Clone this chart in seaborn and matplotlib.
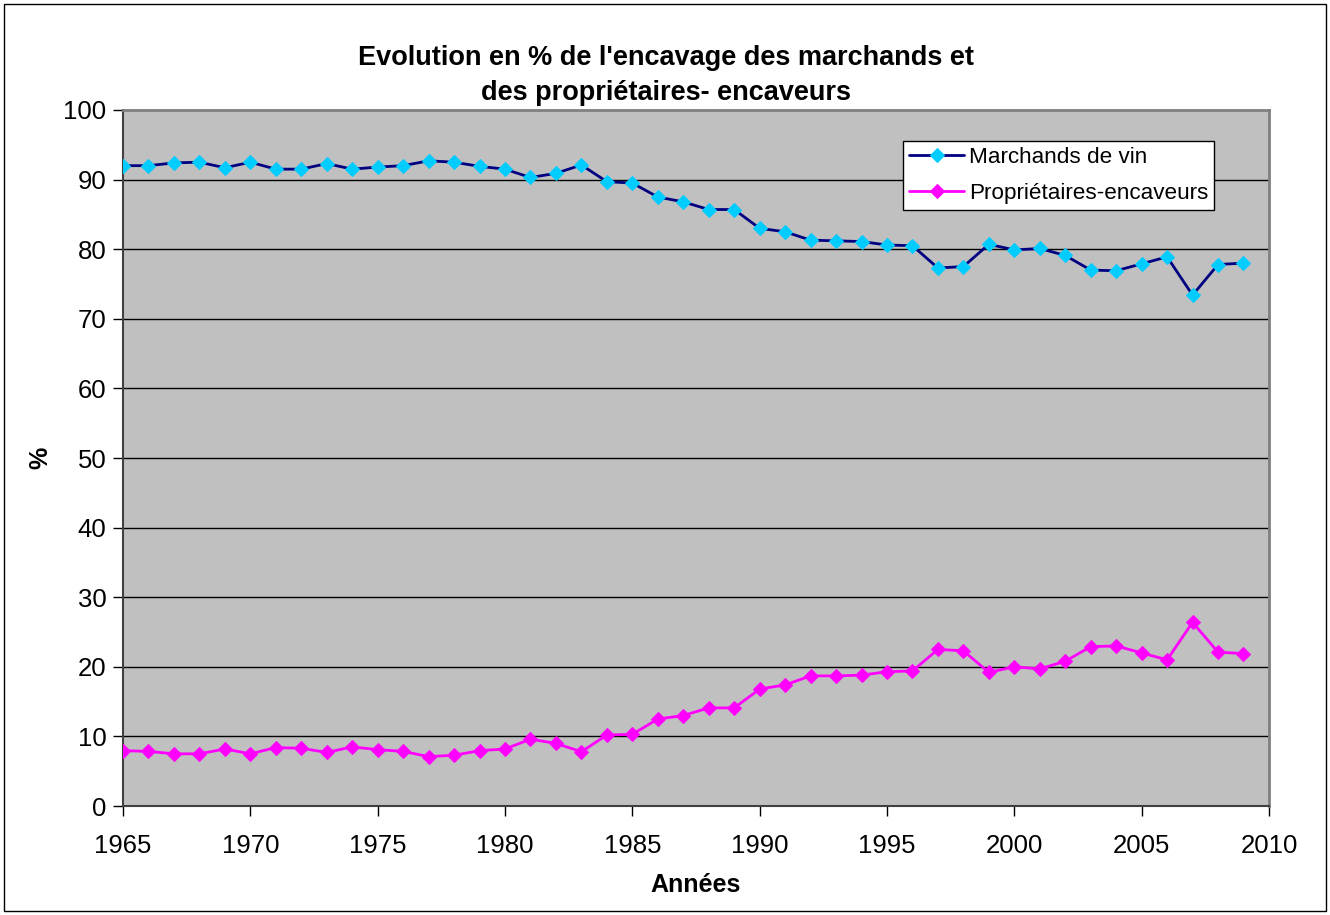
import seaborn as sns
import matplotlib.pyplot as plt
from matplotlib.patches import Rectangle

years = list(range(1965, 2010))

marchands = [92.0, 92.0, 92.4, 92.5, 91.7, 92.5, 91.5, 91.5, 92.3, 91.5,
             91.8, 92.0, 92.7, 92.5, 91.9, 91.5, 90.3, 90.9, 92.1, 89.7,
             89.5, 87.5, 86.8, 85.7, 85.7, 83.0, 82.5, 81.3, 81.2, 81.1,
             80.6, 80.5, 77.3, 77.5, 80.7, 79.9, 80.1, 79.1, 77.0, 76.9,
             77.9, 78.9, 73.4, 77.8, 78.0]

proprietaires = [7.95, 7.85, 7.5, 7.5, 8.2, 7.5, 8.4, 8.3, 7.7, 8.5,
                 8.1, 7.85, 7.1, 7.3, 7.95, 8.2, 9.6, 9.0, 7.8, 10.2,
                 10.3, 12.5, 13.0, 14.1, 14.1, 16.8, 17.4, 18.7, 18.7, 18.8,
                 19.3, 19.4, 22.5, 22.3, 19.2, 20.0, 19.7, 20.8, 22.9, 23.0,
                 22.0, 21.0, 26.4, 22.1, 21.9]

sns.set_theme(style='white')
plt.rcParams['font.family'] = ['Liberation Sans', 'DejaVu Sans']
plt.rcParams['text.color'] = 'black'
plt.rcParams['axes.labelcolor'] = 'black'
plt.rcParams['xtick.color'] = 'black'
plt.rcParams['ytick.color'] = 'black'

fig = plt.figure(figsize=(13.3, 9.15), dpi=100)
ax = fig.add_axes([0.0925, 0.1191, 0.8616, 0.7607])
ax.set_facecolor('#C0C0C0')

# Excel-like horizontal gridlines
for v in range(10, 100, 10):
    ax.axhline(v, color='black', lw=1, zorder=1)

sns.lineplot(x=years, y=marchands, ax=ax, color='#000080', linewidth=2,
             marker='D', markersize=7.5, markerfacecolor='#00CCFF',
             markeredgecolor='#00CCFF', label='Marchands de vin', zorder=3)
sns.lineplot(x=years, y=proprietaires, ax=ax, color='#FF00FF', linewidth=2,
             marker='D', markersize=7.5, markerfacecolor='#FF00FF',
             markeredgecolor='#FF00FF', label='Propriétaires-encaveurs', zorder=3)

ax.set_xlim(1965, 2010)
ax.set_ylim(0, 100)
ax.set_xticks(range(1965, 2011, 5))
ax.set_yticks(range(0, 101, 10))
ax.tick_params(axis='x', length=7, width=1, pad=13, labelsize=18.5,
               direction='out', bottom=True)
ax.tick_params(axis='y', length=7, width=1, pad=5, labelsize=18.5,
               direction='out', left=True)

for side in ['top', 'right']:
    ax.spines[side].set_color('#808080')
    ax.spines[side].set_linewidth(2)
ax.spines['left'].set_color('#404040')
ax.spines['bottom'].set_color('#404040')
ax.spines['left'].set_linewidth(1.5)
ax.spines['bottom'].set_linewidth(1.5)

ax.set_xlabel('Années', fontsize=18, fontweight='bold', labelpad=11)
ax.set_ylabel('%', fontsize=18, fontweight='bold', labelpad=8)

fig.text(0.501, 0.917, "Evolution en % de l'encavage des marchands et\ndes propriétaires- encaveurs",
         ha='center', va='center', fontsize=19.5, fontweight='bold', linespacing=1.45)

leg = ax.legend(loc='upper left', bbox_to_anchor=(0.681, 0.955), fontsize=16.2,
                frameon=True, fancybox=False, framealpha=1, edgecolor='black',
                borderaxespad=0, borderpad=0.25, handlelength=2.45,
                handletextpad=0.2, labelspacing=0.67)
leg.get_frame().set_linewidth(1)

fig.patches.append(Rectangle((0.003, 0.004), 0.994, 0.992, transform=fig.transFigure,
                             fill=False, edgecolor='black', lw=1))

fig.savefig('out.png', dpi=100, facecolor='white')
